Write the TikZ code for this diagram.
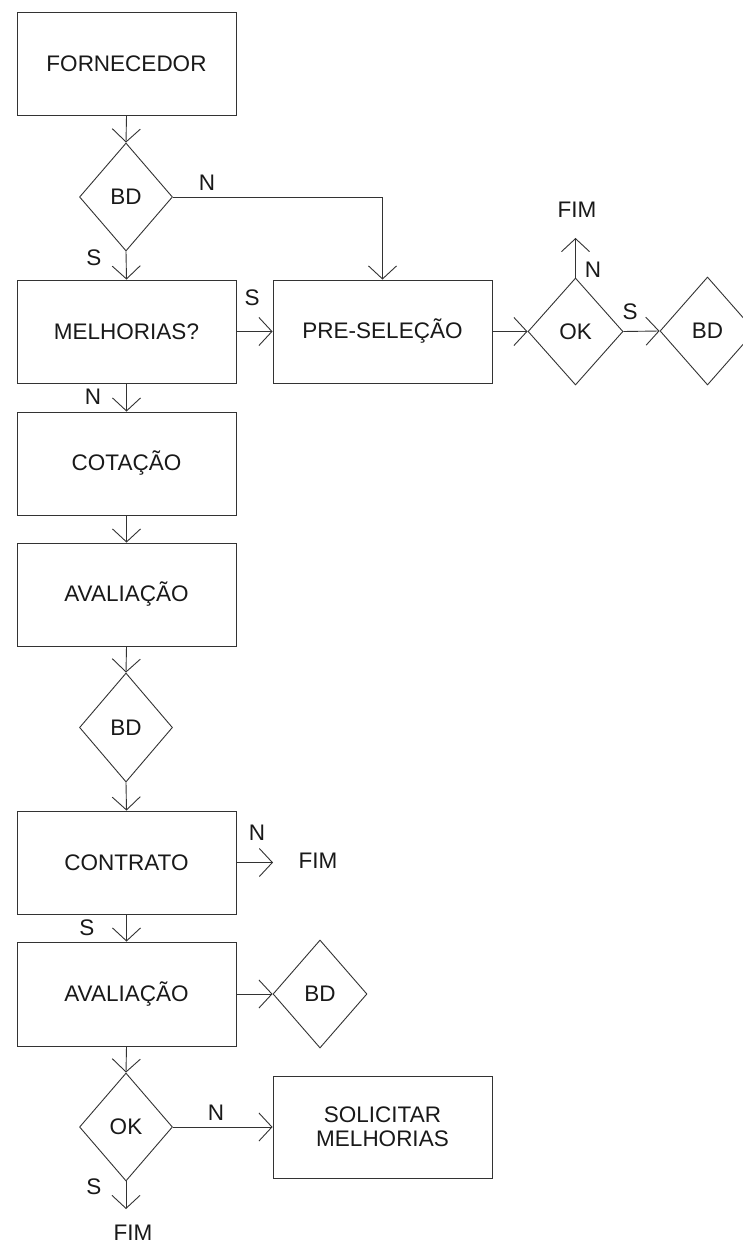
\documentclass[tikz,border=0pt]{standalone}
\usepackage{fontspec}
\setmainfont{Liberation Sans}
\usetikzlibrary{shapes.geometric,arrows.meta}
\begin{document}
\begin{tikzpicture}[x=1pt,y=-1pt,
  every node/.style={font=\fontsize{22.5}{26}\selectfont, text=black!90},
  proc/.style={draw=black!80, line width=0.9pt, rectangle, minimum width=219pt, minimum height=103pt, inner sep=0pt, align=center},
  dec/.style={draw=black!80, line width=0.9pt, diamond, minimum width=93pt, minimum height=108pt, inner sep=0pt},
  lbl/.style={inner sep=0pt},
  flow/.style={draw=black!80, line width=0.9pt, -{Straight Barb[length=13pt,width=28pt,line width=0.9pt]}},
  plain/.style={draw=black!80, line width=0.9pt}]
\useasboundingbox (0,0) rectangle (743,1246);
\fill[white] (0,0) rectangle (743,1246);
% nodes
\node[proc] (forn) at (126.5,64) {FORNECEDOR};
\node[dec] (bd1) at (126,197) {BD};
\node[proc] (melh) at (126.5,331.5) {MELHORIAS?};
\node[proc] (pre) at (382.5,331.5) {PRE-SELEÇÃO};
\node[dec, minimum width=95pt, minimum height=107pt] (ok1) at (575.5,331.5) {OK};
\node[dec, minimum width=95pt] (bd2) at (707.5,331) {BD};
\node[lbl] (fim1) at (577,210) {FIM};
\coordinate (fim1a) at (575.5,238);
\node[proc] (cot) at (126.5,463.5) {COTAÇÃO};
\node[proc] (aval1) at (126.5,594.5) {AVALIAÇÃO};
\node[dec, minimum height=109pt] (bd3) at (126,727.5) {BD};
\node[proc] (contr) at (126.5,862.5) {CONTRATO};
\node[lbl] (fim2) at (318,861) {FIM};
\coordinate (fim2a) at (273,862.5);
\node[proc, minimum height=104pt] (aval2) at (126.5,994) {AVALIAÇÃO};
\node[dec, minimum width=94pt] (bd4) at (320,994) {BD};
\node[dec] (ok2) at (126,1127) {OK};
\node[proc, minimum height=102pt, font=\fontsize{22.5}{24}\selectfont] (sol) at (382.5,1127) {SOLICITAR\\MELHORIAS};
\node[lbl] (fim3) at (133,1233) {FIM};
\coordinate (fim3a) at (126,1209);
% labels
\node[lbl] (l1) at (207,183) {N};
\node[lbl] (l2) at (94,258) {S};
\node[lbl] (l3) at (252,298) {S};
\node[lbl] (l4) at (593,270) {N};
\node[lbl] (l5) at (630,312) {S};
\node[lbl] (l6) at (93,397) {N};
\node[lbl] (l7) at (257,833) {N};
\node[lbl] (l8) at (87,928) {S};
\node[lbl] (l9) at (216,1113) {N};
\node[lbl] (l10) at (94,1187) {S};
% connectors
\draw[flow] (forn.south) -- (bd1.north);
\draw[flow] (bd1.south) -- (melh.north);
\draw[flow] (bd1.east) -| (pre.north);
\draw[flow] (melh.east) -- (pre.west);
\draw[flow] (pre.east) -- (ok1.west);
\draw[flow] (ok1.north) -- (fim1a);
\draw[flow] (ok1.east) -- (bd2.west);
\draw[flow] (melh.south) -- (cot.north);
\draw[flow] (cot.south) -- (aval1.north);
\draw[flow] (aval1.south) -- (bd3.north);
\draw[flow] (bd3.south) -- (contr.north);
\draw[flow] (contr.east) -- (fim2a);
\draw[flow] (contr.south) -- (aval2.north);
\draw[flow] (aval2.east) -- (bd4.west);
\draw[flow] (aval2.south) -- (ok2.north);
\draw[flow] (ok2.east) -- (sol.west);
\draw[flow] (ok2.south) -- (fim3a);
\end{tikzpicture}
\end{document}
